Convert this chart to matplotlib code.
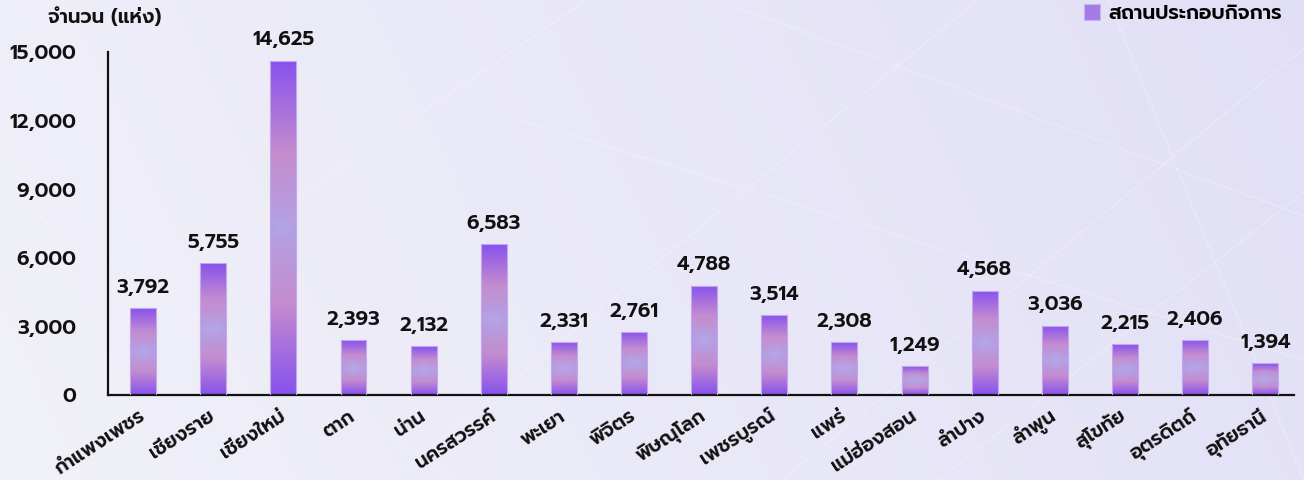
import matplotlib
matplotlib.use("Agg")
import matplotlib.pyplot as plt
import numpy as np
from matplotlib.patches import Patch
from matplotlib.ticker import FixedLocator, FuncFormatter

provinces = ["กำแพงเพชร", "เชียงราย", "เชียงใหม่", "ตาก", "น่าน", "นครสวรรค์",
             "พะเยา", "พิจิตร", "พิษณุโลก", "เพชรบูรณ์", "แพร่", "แม่ฮ่องสอน",
             "ลำปาง", "ลำพูน", "สุโขทัย", "อุตรดิตถ์", "อุทัยธานี"]
establishments = [3792, 5755, 14625, 2393, 2132, 6583, 2331, 2761, 4788,
                  3514, 2308, 1249, 4568, 3036, 2215, 2406, 1394]
y_ticks = [0, 3000, 6000, 9000, 12000, 15000]
series_name = "สถานประกอบกิจการ"
y_title = "จำนวน (แห่ง)"

FONT = ['Prompt', 'DejaVu Sans']
plt.rcParams['font.family'] = FONT
INK = '#111111'
WT = 'semibold'

W, H = 1304, 480
fig = plt.figure(figsize=(W / 100, H / 100), dpi=100)

# background gradient
bg = fig.add_axes([0, 0, 1, 1], zorder=-10)
gx = np.linspace(0, 1, 400)
gy = np.linspace(0, 1, 160)
GX, GY = np.meshgrid(gx, gy)
c_left = np.array([0.945, 0.945, 0.975])
c_right = np.array([0.885, 0.875, 0.965])
t = np.clip(GX * 0.85 + (1 - GY) * 0.15, 0, 1)[..., None]
img = c_left * (1 - t) + c_right * t
bg.imshow(img, extent=[0, 1, 0, 1], aspect='auto', origin='upper')
for (x0, y0, x1, y1) in [(0.02, 0.2, 0.45, 1.0), (0.3, 0.0, 0.75, 1.0), (0.4, 0.75, 1.0, 0.25),
                         (0.55, 1.0, 1.0, 0.55), (0.72, 0.0, 1.0, 0.6), (0.0, 0.6, 0.35, 0.0),
                         (0.85, 1.0, 1.0, 0.0), (0.6, 0.0, 1.0, 0.9)]:
    bg.plot([x0, x1], [y0, y1], color='white', lw=1.0, alpha=0.25)
bg.set_xlim(0, 1)
bg.set_ylim(0, 1)
bg.axis('off')

left, right = 108 / W, 1294 / W
bottom, top = 1 - 395 / H, 1 - 52 / H
ax = fig.add_axes([left, bottom, right - left, top - bottom])
ax.patch.set_alpha(0)

x = np.arange(len(provinces))
bars = ax.bar(x, establishments, width=0.37, color='none',
              edgecolor='#c2a6f2', linewidth=0.8, zorder=3)
ax.set_xlim(-0.5, len(provinces) - 1 + 0.41)
ax.set_ylim(0, 15000)

purple = np.array([0.53, 0.32, 0.93])
pink = np.array([0.77, 0.55, 0.81])
lav = np.array([0.70, 0.63, 0.89])

fig.canvas.draw()
for b in bars:
    x0, w, h = b.get_x(), b.get_width(), b.get_height()
    p0 = ax.transData.transform((x0, 0))
    p1 = ax.transData.transform((x0 + w, h))
    wpx, hpx = abs(p1[0] - p0[0]), abs(p1[1] - p0[1])
    ny, nx = 200, 40
    vv = np.linspace(0, 1, ny)[:, None]
    uu = np.linspace(0, 1, nx)[None, :]
    s = np.repeat(np.abs(vv - 0.5) * 2, nx, axis=1)
    a = np.clip(s / 0.45, 0, 1)[..., None]
    bcol = lav * (1 - a) + pink * a
    c2 = np.clip((s - 0.45) / 0.55, 0, 1)[..., None]
    col = bcol * (1 - c2) + purple * c2
    dx = (uu - 0.5) * wpx
    dy = (vv - 0.5) * hpx
    d = np.sqrt(dx ** 2 + dy ** 2) / (wpx * 0.55)
    g = np.clip(1 - d, 0, 1)[..., None] ** 1.5
    glow = np.array([0.72, 0.66, 0.92])
    col = col * (1 - 0.6 * g) + glow * 0.6 * g
    im = ax.imshow(col, extent=[x0, x0 + w, 0, h], aspect='auto',
                   origin='lower', zorder=2, interpolation='bilinear')
    im.set_clip_path(b)
    ax.annotate(f"{int(h):,}", (b.get_x() + w / 2, h), xytext=(0, 8),
                textcoords='offset points', ha='center', va='bottom',
                fontsize=14.5, fontweight=WT, color=INK)

ax.set_aspect('auto')
ax.set_xlim(-0.5, len(provinces) - 1 + 0.41)
ax.set_ylim(0, 15000)

for sp in ['top', 'right']:
    ax.spines[sp].set_visible(False)
for sp in ['left', 'bottom']:
    ax.spines[sp].set_linewidth(1.6)
    ax.spines[sp].set_color(INK)

ax.yaxis.set_major_locator(FixedLocator(y_ticks))
ax.yaxis.set_major_formatter(FuncFormatter(lambda v, p: f"{int(v):,}"))
ax.tick_params(axis='y', length=0, pad=23, labelcolor=INK, labelsize=14.5)
for lbl in ax.get_yticklabels():
    lbl.set_fontweight(WT)
ax.set_xticks(x)
ax.set_xticklabels(provinces, rotation=33, ha='right', va='center',
                   rotation_mode='anchor', fontsize=14, fontweight=WT, color=INK)
ax.tick_params(axis='x', length=0, pad=14)

fig.text(48 / W, 1 - 17 / H, y_title, ha='left', va='center', fontsize=14.2,
         fontweight=WT, color=INK)

handle = Patch(facecolor='#a47be6', edgecolor='#c9b2f3', linewidth=0.8)
leg = fig.legend([handle], [series_name], loc='upper right',
                 bbox_to_anchor=(1 - 20 / W, 1 - 2 / H), frameon=False,
                 borderpad=0.1, borderaxespad=0.0,
                 handlelength=0.8, handleheight=0.8, handletextpad=0.4,
                 prop={'family': FONT, 'weight': WT, 'size': 14.5})

fig.savefig("out.png", dpi=100)
